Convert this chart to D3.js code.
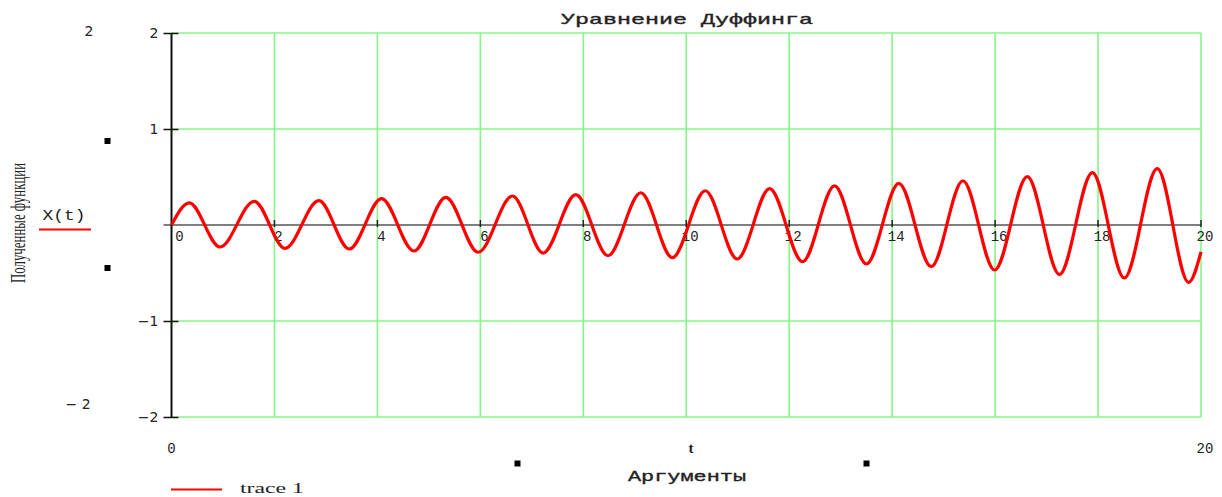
<!DOCTYPE html>
<html><head><meta charset="utf-8">
<script src="https://cdn.jsdelivr.net/npm/d3@7/dist/d3.min.js"></script>
<style>
html,body{margin:0;padding:0;background:#fff;}
svg{display:block;}
</style></head>
<body>
<svg id="chart" width="1222" height="497"></svg>
<script>
// ---- data (extrema of X(t)) ----
const tPoints = [0, 0.346, 0.942, 1.608, 2.204, 2.864, 3.453, 4.08, 4.709, 5.33, 5.958,
  6.625, 7.22, 7.854, 8.48, 9.117, 9.73, 10.37, 10.99, 11.62, 12.26,
  12.88, 13.5, 14.13, 14.76, 15.375, 15.99, 16.625, 17.25, 17.89, 18.51,
  19.15, 19.76, 20];
const xPoints = [0, 0.231, -0.229, 0.247, -0.243, 0.253, -0.25, 0.274, -0.271, 0.288, -0.284,
  0.302, -0.292, 0.316, -0.32, 0.336, -0.34, 0.357, -0.354, 0.378, -0.382,
  0.407, -0.406, 0.434, -0.434, 0.461, -0.469, 0.503, -0.514, 0.545, -0.552,
  0.587, -0.597, -0.28];
const xTicks = [0, 2, 4, 6, 8, 10, 12, 14, 16, 18, 20];
const yTicks = [-2, -1, 1, 2];
const yTickLabels = ["\u22122", "\u22121", "1", "2"];
const title = "Уравнение Дуффинга";
const xTitle = "Аргументы";
const yTitle = "Полученные функции";
const seriesName = "X(t)";
const legendName = "trace 1";

const svg = d3.select("#chart");
const x = d3.scaleLinear().domain([0, 20]).range([171.5, 1201]);
const y = d3.scaleLinear().domain([-2, 2]).range([417, 33]);
const green = "#86f786";

// grid
svg.append("g").selectAll("line").data(xTicks.filter(d => d > 0)).join("line")
  .attr("x1", d => x(d)).attr("x2", d => x(d)).attr("y1", y(2)).attr("y2", y(-2))
  .attr("stroke", green).attr("stroke-width", 1.6);
svg.append("g").selectAll("line").data(yTicks).join("line")
  .attr("x1", x(0)).attr("x2", x(20)).attr("y1", d => y(d)).attr("y2", d => y(d))
  .attr("stroke", green).attr("stroke-width", 1.6);

// x axis line at 0
svg.append("line").attr("x1", x(0) - 8).attr("x2", x(20)).attr("y1", y(0)).attr("y2", y(0))
  .attr("stroke", "#555").attr("stroke-width", 1.5);
svg.append("g").selectAll("line").data(xTicks.filter(d => d > 0)).join("line")
  .attr("x1", d => x(d)).attr("x2", d => x(d)).attr("y1", y(0) - 5).attr("y2", y(0) + 2)
  .attr("stroke", "#222").attr("stroke-width", 1.5);
svg.append("g").selectAll("text").data(xTicks).join("text")
  .attr("x", d => x(d) + (d === 0 ? 8 : 4)).attr("y", y(0) + 16)
  .attr("text-anchor", "middle").attr("font-family", "Liberation Mono, monospace")
  .attr("font-size", 14).attr("fill", "#222").text(d => d);

// y axis (black)
const yAxis = d3.axisLeft(y).tickValues(yTicks).tickSize(8).tickPadding(5)
  .tickFormat((d, i) => yTickLabels[i]);
const ga = svg.append("g").attr("transform", `translate(${x(0)},0)`).call(yAxis);
ga.select(".domain").remove();
ga.selectAll(".tick line").attr("stroke", "#111").attr("stroke-width", 1.5).attr("x2", -8).attr("x1", 7);
ga.selectAll(".tick text").attr("font-family", "DejaVu Sans, sans-serif").attr("font-size", 14).attr("fill", "#222");
svg.append("line").attr("x1", x(0)).attr("x2", x(0)).attr("y1", y(2)).attr("y2", y(-2))
  .attr("stroke", "#111").attr("stroke-width", 2);

// curve
const line = d3.line().x((d, i) => x(tPoints[i])).y(d => y(d)).curve(d3.curveMonotoneX);
svg.append("path").datum(xPoints).attr("d", line).attr("fill", "none")
  .attr("stroke", "#ff0000").attr("stroke-width", 3.2).attr("stroke-linejoin", "miter");

// title
svg.append("text").attr("x", 687).attr("y", 24).attr("text-anchor", "middle")
  .attr("font-family", "Liberation Mono, monospace").attr("font-size", 15)
  .attr("fill", "#222").attr("stroke", "#222").attr("stroke-width", 0.35)
  .attr("textLength", 252).attr("lengthAdjust", "spacingAndGlyphs").text(title);

// axis limit labels (outside)
const lim = svg.append("g").attr("font-family", "DejaVu Sans, sans-serif").attr("font-size", 14).attr("fill", "#222");
lim.append("text").attr("x", 89).attr("y", 36).attr("text-anchor", "middle").text("2");
lim.append("text").attr("x", 78).attr("y", 409).attr("text-anchor", "middle").text("\u2212 2");
lim.append("text").attr("x", x(0)).attr("y", 453).attr("text-anchor", "middle").attr("font-family", "Liberation Mono, monospace").text("0");
lim.append("text").attr("x", 1205).attr("y", 453).attr("text-anchor", "middle").attr("font-family", "Liberation Mono, monospace").text("20");
lim.append("text").attr("x", 691).attr("y", 453).attr("text-anchor", "middle")
  .attr("font-family", "Liberation Serif, serif").attr("font-weight", "bold").attr("font-size", 15).text("t");

// small squares
const sq = [[107.5, 141], [107.5, 268], [517.5, 463.5], [866.5, 463.5]];
svg.append("g").selectAll("rect").data(sq).join("rect")
  .attr("x", d => d[0] - 3).attr("y", d => d[1] - 3).attr("width", 6).attr("height", 6).attr("fill", "#000");

// x title
svg.append("text").attr("x", 687).attr("y", 481).attr("text-anchor", "middle")
  .attr("font-family", "Liberation Mono, monospace").attr("font-size", 15)
  .attr("fill", "#222").attr("stroke", "#222").attr("stroke-width", 0.35)
  .attr("textLength", 118).attr("lengthAdjust", "spacingAndGlyphs").text(xTitle);

// y title (rotated)
svg.append("text").attr("transform", "translate(25,223) rotate(-90)").attr("text-anchor", "middle")
  .attr("font-family", "Liberation Serif, serif").attr("font-size", 22)
  .attr("fill", "#222").attr("textLength", 120).attr("lengthAdjust", "spacingAndGlyphs").text(yTitle);

// series label at left
svg.append("text").attr("x", 64).attr("y", 220).attr("text-anchor", "middle")
  .attr("font-family", "Liberation Mono, monospace").attr("font-size", 14)
  .attr("fill", "#222").attr("textLength", 43).attr("lengthAdjust", "spacingAndGlyphs").text(seriesName);
svg.append("line").attr("x1", 39).attr("x2", 91).attr("y1", 229.5).attr("y2", 229.5)
  .attr("stroke", "#ff0000").attr("stroke-width", 2);

// bottom legend
svg.append("line").attr("x1", 171).attr("x2", 222).attr("y1", 489.5).attr("y2", 489.5)
  .attr("stroke", "#ff0000").attr("stroke-width", 2);
svg.append("text").attr("x", 240).attr("y", 493)
  .attr("font-family", "Liberation Serif, serif").attr("font-size", 14)
  .attr("fill", "#222").attr("textLength", 64).attr("lengthAdjust", "spacingAndGlyphs").text(legendName);
</script>
</body></html>
